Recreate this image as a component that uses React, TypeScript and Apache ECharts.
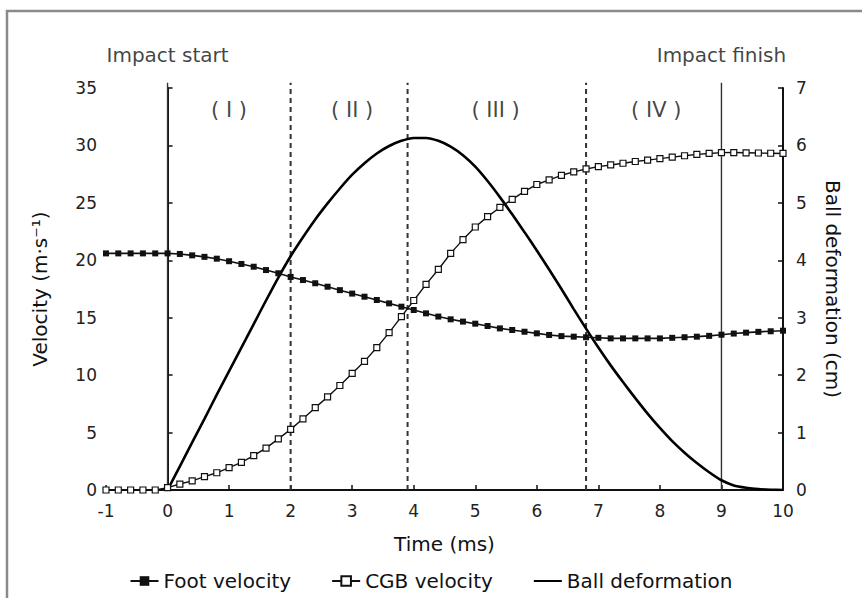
import React, { useEffect, useRef } from "react";
import * as echarts from "echarts";

const times = [
  -1, -0.8, -0.6, -0.4, -0.2, 0,
  0.2, 0.4, 0.6, 0.8, 1,
  1.2, 1.4, 1.6, 1.8, 2,
  2.2, 2.4, 2.6, 2.8, 3,
  3.2, 3.4, 3.6, 3.8, 4,
  4.2, 4.4, 4.6, 4.8, 5,
  5.2, 5.4, 5.6, 5.8, 6,
  6.2, 6.4, 6.6, 6.8, 7,
  7.2, 7.4, 7.6, 7.8, 8,
  8.2, 8.4, 8.6, 8.8, 9,
  9.2, 9.4, 9.6, 9.8, 10,
];

const footVelocity = [
  20.6, 20.6, 20.6, 20.6, 20.6, 20.6,
  20.55, 20.43, 20.3, 20.14, 19.92,
  19.68, 19.44, 19.15, 18.87, 18.55,
  18.28, 18.0, 17.7, 17.4, 17.1,
  16.83, 16.54, 16.25, 15.96, 15.67,
  15.38, 15.1, 14.86, 14.66, 14.48,
  14.28, 14.07, 13.93, 13.78, 13.64,
  13.5, 13.4, 13.35, 13.3, 13.25,
  13.2, 13.2, 13.2, 13.2, 13.2,
  13.25, 13.3, 13.35, 13.42, 13.52,
  13.62, 13.7, 13.77, 13.82, 13.87,
];

const cgbVelocity = [
  0, 0, 0, 0, 0, 0.2,
  0.52, 0.8, 1.16, 1.5, 1.95,
  2.4, 3.0, 3.65, 4.45, 5.28,
  6.2, 7.17, 8.1, 9.1, 10.15,
  11.2, 12.4, 13.7, 15.1, 16.5,
  17.9, 19.2, 20.6, 21.8, 22.9,
  23.8, 24.6, 25.3, 26.0, 26.6,
  27.0, 27.4, 27.7, 27.95, 28.15,
  28.3, 28.45, 28.6, 28.72, 28.85,
  28.98, 29.1, 29.22, 29.3, 29.37,
  29.38, 29.36, 29.34, 29.32, 29.3,
];

// Ball deformation (cm), from t = 0 ms to 10 ms
const ballDeformation = [
  0,
  0.41, 0.83, 1.24, 1.66, 2.07,
  2.48, 2.89, 3.3, 3.7, 4.07,
  4.4, 4.71, 4.99, 5.25, 5.49,
  5.69, 5.86, 5.99, 6.08, 6.13,
  6.13, 6.08, 5.98, 5.83, 5.63,
  5.38, 5.1, 4.8, 4.49, 4.17,
  3.84, 3.5, 3.15, 2.81, 2.48,
  2.17, 1.88, 1.6, 1.33, 1.08,
  0.85, 0.65, 0.47, 0.31, 0.17,
  0.08, 0.04, 0.016, 0.005, 0,
];

const solidMarkers = [0, 9];
const dashedMarkers = [2, 3.9, 6.8];
const markerTop = 35.45;

const regionLabels = ["( I )", "( II )", "( III )", "( IV )"];
const regionCenters = [1, 3, 5.33, 7.94];
const regionLabelY = 33.1;

const impactLabels = ["Impact start", "Impact finish"];
const impactTimes = [0, 9];
const impactLabelY = 37.9;

const seriesNames = ["Foot velocity", "CGB velocity", "Ball deformation"];

const FONT = "DejaVu Sans";
const INK = "#111";
const TEXT = "#111";

export default function App() {
  const ref = useRef<HTMLDivElement>(null);

  useEffect(() => {
    if (!ref.current) return;
    const chart = echarts.init(ref.current, null, { renderer: "svg" });

    const ballTimes = times.slice(times.indexOf(0));

    const vLine = (t: number, dashed: boolean) => ({
      type: "line",
      data: [
        [t, 0],
        [t, markerTop],
      ],
      symbol: "none",
      silent: true,
      clip: false,
      z: 1,
      lineStyle: dashed
        ? { color: "#333", width: 2, type: [5, 4] }
        : { color: "#333", width: 1.4 },
    });

    const option: any = {
      animation: false,
      backgroundColor: "#fff",
      textStyle: { fontFamily: FONT },
      grid: { left: 106, right: 79, top: 88, bottom: 108 },
      legend: {
        data: [
          { name: seriesNames[0] },
          { name: seriesNames[1] },
          {
            name: seriesNames[2],
            itemStyle: { color: "rgba(0,0,0,0)", borderWidth: 0, opacity: 0 },
          },
        ],
        left: "center",
        top: 566,
        itemWidth: 28,
        itemHeight: 12,
        itemGap: 40,
        textStyle: { fontFamily: FONT, fontSize: 20, color: TEXT },
      },
      graphic: [
        {
          type: "polyline",
          shape: {
            points: [
              [7, 598],
              [7, 11],
              [862, 11],
            ],
          },
          style: { stroke: "#8a8a8a", lineWidth: 2.5, fill: "none" },
          silent: true,
        },
      ],
      xAxis: {
        type: "value",
        min: -1,
        max: 10,
        interval: 1,
        name: "Time (ms)",
        nameLocation: "middle",
        nameGap: 44,
        nameTextStyle: { fontFamily: FONT, fontSize: 20, color: TEXT },
        axisLine: { onZero: false, lineStyle: { color: INK, width: 2 } },
        axisTick: { inside: true, length: 5, lineStyle: { color: INK, width: 1.5 } },
        axisLabel: { margin: 12, fontFamily: FONT, fontSize: 17, color: "#222" },
        splitLine: { show: false },
      },
      yAxis: [
        {
          type: "value",
          min: 0,
          max: 35,
          interval: 5,
          name: "Velocity (m·s⁻¹)",
          nameLocation: "middle",
          nameGap: 56,
          nameTextStyle: { fontFamily: FONT, fontSize: 20, color: TEXT },
          axisLine: { show: true, lineStyle: { color: INK, width: 2 } },
          axisTick: { show: true, inside: true, length: 5, lineStyle: { color: INK, width: 1.5 } },
          axisLabel: { margin: 9, fontFamily: FONT, fontSize: 17, color: "#222" },
          splitLine: { show: false },
        },
        {
          type: "value",
          min: 0,
          max: 7,
          interval: 1,
          position: "right",
          name: "Ball deformation (cm)",
          nameLocation: "middle",
          nameRotate: -90,
          nameGap: 40,
          nameTextStyle: { fontFamily: FONT, fontSize: 20, color: TEXT },
          axisLine: { show: true, lineStyle: { color: INK, width: 2 } },
          axisTick: { show: true, inside: true, length: 5, lineStyle: { color: INK, width: 1.5 } },
          axisLabel: { margin: 13, fontFamily: FONT, fontSize: 17, color: "#222" },
          splitLine: { show: false },
        },
      ],
      series: [
        ...solidMarkers.map((t) => vLine(t, false)),
        ...dashedMarkers.map((t) => vLine(t, true)),
        {
          name: "Ball deformation",
          type: "line",
          yAxisIndex: 1,
          data: ballTimes.map((t, i) => [t, ballDeformation[i]]),
          symbol: "none",
          smooth: 0.2,
          z: 3,
          lineStyle: { color: "#000", width: 2.6 },
          itemStyle: { color: "#000" },
        },
        {
          name: "Foot velocity",
          type: "line",
          data: times.map((t, i) => [t, footVelocity[i]]),
          symbol: "rect",
          symbolSize: 6,
          z: 4,
          lineStyle: { color: INK, width: 1.6 },
          itemStyle: { color: INK },
        },
        {
          name: "CGB velocity",
          type: "line",
          data: times.map((t, i) => [t, cgbVelocity[i]]),
          symbol: "rect",
          symbolSize: 6,
          z: 4,
          lineStyle: { color: INK, width: 1.4 },
          itemStyle: { color: "#fff", borderColor: INK, borderWidth: 1.2 },
        },
        {
          type: "scatter",
          silent: true,
          clip: false,
          symbolSize: 1,
          itemStyle: { color: "rgba(0,0,0,0)" },
          data: [
            ...regionLabels.map((s, i) => ({
              name: s,
              value: [regionCenters[i], regionLabelY],
              label: { fontSize: 21 },
            })),
            ...impactLabels.map((s, i) => ({ name: s, value: [impactTimes[i], impactLabelY] })),
          ],
          label: {
            show: true,
            position: "inside",
            formatter: "{b}",
            fontFamily: FONT,
            fontSize: 20,
            color: TEXT,
          },
        },
      ],
    };

    chart.setOption(option);
    return () => chart.dispose();
  }, []);

  return (
    <div
      ref={ref}
      style={{ position: "fixed", left: 0, top: 0, width: 862, height: 598, background: "#fff" }}
    />
  );
}
